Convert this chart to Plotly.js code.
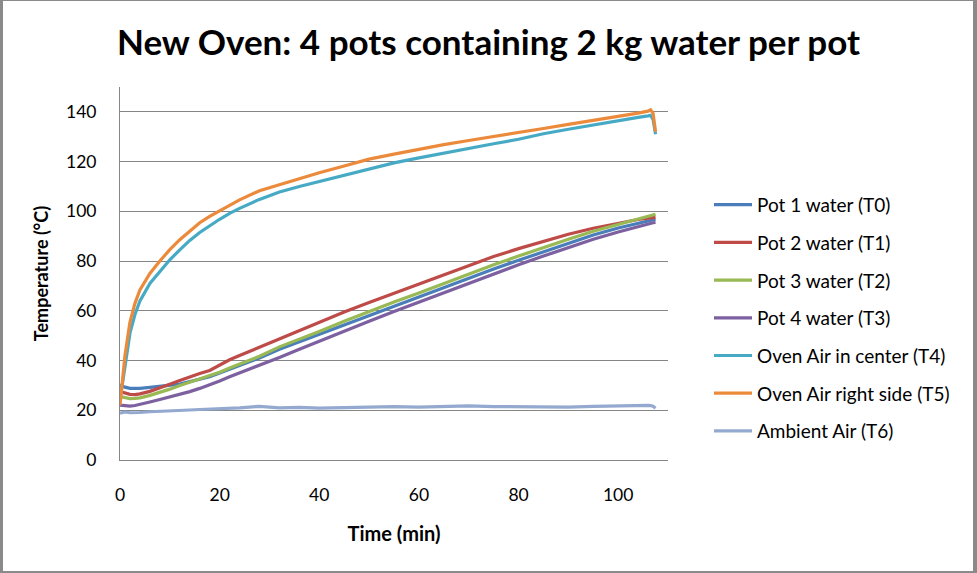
<!DOCTYPE html>
<html>
<head>
<meta charset="utf-8">
<script src="https://cdn.plot.ly/plotly-3.0.1.min.js"></script>
<style>
  body { margin: 0; background: #fff; }
  #wrap { position: relative; width: 977px; height: 573px; }
  #chart { width: 977px; height: 573px; }
  #frame { position: absolute; left: 0; top: 0; width: 977px; height: 573px; box-sizing: border-box;
           border-style: solid; border-color: #8a8a8a; border-width: 1px 4px 2px 3px; pointer-events: none; }
</style>
</head>
<body>
<div id="wrap">
  <div id="chart"></div>
  <div id="frame"></div>
</div>
<script>
// time in minutes, temperatures in deg C
const time = [0, 1, 2, 3, 4, 6, 8, 10, 12, 14, 16, 18, 20, 22, 24, 28, 32, 36, 40, 45, 50, 55, 60, 65, 70, 75, 80, 85, 90, 95, 100, 104, 106, 106.5, 107, 107.5];

const pot1 = [30.2, 29.3, 28.8, 28.7, 28.8, 29.2, 29.6, 29.9, 30.5, 31.5, 32.5, 33.5, 35.0, 36.5, 38.0, 41.0, 44.5, 47.5, 50.5, 54.5, 58.3, 62.0, 65.7, 69.5, 73.1, 76.8, 80.3, 83.8, 87.2, 90.5, 93.3, 95.3, 96.2, 96.4, 96.6, 96.8];
const pot2 = [27.5, 26.8, 26.4, 26.3, 26.6, 27.6, 29.2, 30.5, 32.0, 33.5, 34.8, 36.0, 38.2, 40.3, 42.0, 45.3, 48.8, 52.0, 55.3, 59.5, 63.3, 67.0, 70.7, 74.5, 78.4, 81.8, 85.0, 88.0, 90.8, 93.2, 95.3, 96.7, 97.3, 97.4, 97.5, 97.6];
const pot3 = [25.5, 25.0, 24.7, 24.8, 25.0, 26.0, 27.2, 28.5, 30.0, 31.3, 32.5, 33.8, 35.3, 37.0, 38.5, 41.7, 45.5, 48.5, 51.7, 55.8, 59.8, 63.5, 67.2, 71.0, 74.8, 78.5, 82.0, 85.5, 88.8, 92.0, 94.8, 97.0, 98.0, 98.3, 98.6, 98.8];
const pot4 = [22.1, 21.8, 21.7, 21.9, 22.3, 23.3, 24.3, 25.3, 26.3, 27.5, 28.8, 30.2, 31.8, 33.5, 35.0, 38.0, 41.2, 44.5, 47.8, 51.8, 55.8, 59.7, 63.5, 67.4, 71.2, 74.9, 78.5, 82.0, 85.5, 88.8, 91.7, 94.0, 95.0, 95.2, 95.4, 95.5];
const airCenter = [24.0, 38.0, 51.0, 58.5, 64.0, 71.0, 76.0, 80.5, 84.5, 88.3, 91.5, 94.2, 96.8, 99.2, 101.2, 104.8, 107.8, 110.0, 112.0, 114.5, 117.0, 119.5, 121.5, 123.5, 125.3, 127.2, 129.0, 131.2, 133.0, 134.8, 136.5, 137.8, 138.4, 138.6, 137.0, 131.0];
const airRight = [22.0, 42.0, 55.5, 63.0, 68.4, 75.0, 80.0, 84.6, 88.6, 92.2, 95.4, 98.0, 100.3, 102.5, 104.6, 108.3, 110.8, 113.2, 115.5, 118.2, 121.0, 123.0, 125.0, 126.8, 128.5, 130.0, 131.5, 133.3, 135.0, 136.6, 138.0, 139.5, 140.3, 140.8, 139.5, 132.0];
const ambient = [18.8, 19.3, 19.0, 19.2, 19.1, 19.4, 19.5, 19.8, 19.9, 20.1, 20.3, 20.4, 20.5, 20.8, 21.0, 21.6, 21.0, 21.2, 20.9, 21.1, 21.3, 21.5, 21.3, 21.6, 21.8, 21.5, 21.4, 21.5, 21.3, 21.6, 21.9, 22.1, 22.0, 21.9, 21.6, 20.8];

const names = ["Pot 1 water (T0)", "Pot 2 water (T1)", "Pot 3 water (T2)", "Pot 4 water (T3)",
               "Oven Air in center (T4)", "Oven Air right side (T5)", "Ambient Air (T6)"];
const series = [pot1, pot2, pot3, pot4, airCenter, airRight, ambient];
const colors = ["#4a7ebb", "#be4b48", "#98b954", "#7d60a0", "#46aac5", "#ec8a3c", "#93a9cf"];

const font = "Lato, 'Open Sans', sans-serif";

let traces = series.map((vals, i) => ({
    x: time,
    y: vals,
    name: names[i],
    legendgroup: "g" + i,
    type: "scatter",
    mode: "lines",
    line: { color: colors[i], width: 3.2 }
}));

let layout = {
    width: 977, height: 573,
    margin: { l: 120, r: 309, t: 87, b: 113 },
    paper_bgcolor: "#fff",
    plot_bgcolor: "#fff",
    font: { family: font, size: 17.5, color: "#000" },
    title: {
        text: "<b>New Oven: 4 pots containing 2 kg water per pot</b>",
        font: { family: font, size: 35, color: "#000" },
        x: 0.5, xref: "container", xanchor: "center",
        y: 0.925, yref: "container", yanchor: "middle"
    },
    xaxis: {
        range: [0, 110],
        tickvals: [0, 20, 40, 60, 80, 100],
        showgrid: false,
        zeroline: false,
        showline: true, linecolor: "#868686", linewidth: 1,
        ticks: "",
        ticklabelstandoff: 19,
        tickfont: { family: font, size: 17.5 },
        title: { text: "<b>Time (min)</b>", font: { family: font, size: 20 }, standoff: 22 }
    },
    yaxis: {
        range: [0, 150],
        tickvals: [0, 20, 40, 60, 80, 100, 120, 140],
        showgrid: true, gridcolor: "#868686", gridwidth: 1,
        zeroline: false,
        showline: true, linecolor: "#868686", linewidth: 1,
        ticks: "",
        ticklabelstandoff: 19,
        tickfont: { family: font, size: 17.5 },
        title: { text: "<b>Temperature (°C)</b>", font: { family: font, size: 18 }, standoff: 12 }
    },
    showlegend: true,
    legend: {
        x: 1.0748, xanchor: "left",
        y: 0.735, yanchor: "top",
        traceorder: "grouped",
        tracegroupgap: 10,
        itemwidth: 38,
        font: { family: font, size: 19, color: "#000" },
        bgcolor: "rgba(0,0,0,0)"
    }
};

Plotly.newPlot("chart", traces, layout, { displayModeBar: false });
</script>
</body>
</html>
